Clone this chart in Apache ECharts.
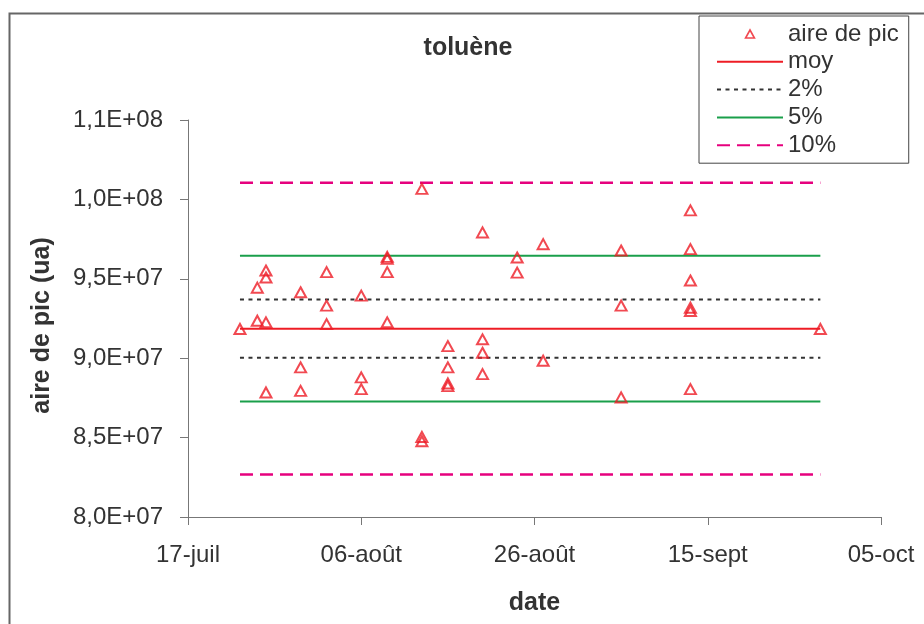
<!DOCTYPE html>
<html>
<head>
<meta charset="utf-8">
<script src="https://cdn.jsdelivr.net/npm/echarts@6/dist/echarts.min.js"></script>
<style>html,body{margin:0;padding:0;background:#fff}#c{width:924px;height:624px}</style>
</head>
<body>
<div id="c"></div>
<script>
// ---- data ----
const baseDate = '07-17';            // first x tick (17-juil)
const xTickLabels = ['17-juil', '06-août', '26-août', '15-sept', '05-oct'];
const xStepDays = 20;
const yTickLabels = ['8,0E+07', '8,5E+07', '9,0E+07', '9,5E+07', '1,0E+08', '1,1E+08'];
const yMin = 8.0e7;
const yStep = 5.0e6;

const sampleDates = [
  '07-23',
  '07-25', '07-25',
  '07-26', '07-26', '07-26', '07-26',
  '07-30', '07-30', '07-30',
  '08-02', '08-02', '08-02',
  '08-06', '08-06', '08-06',
  '08-09', '08-09', '08-09', '08-09',
  '08-13', '08-13', '08-13',
  '08-16', '08-16', '08-16', '08-16',
  '08-20', '08-20', '08-20', '08-20',
  '08-24', '08-24',
  '08-27', '08-27',
  '09-05', '09-05', '09-05',
  '09-13', '09-13', '09-13', '09-13', '09-13', '09-13',
  '09-28'
];
const peakArea = [
  9.184e7,
  9.236e7, 9.444e7,
  9.226e7, 9.552e7, 9.508e7, 8.784e7,
  9.415e7, 8.942e7, 8.794e7,
  9.542e7, 9.331e7, 9.215e7,
  9.394e7, 8.879e7, 8.805e7,
  9.638e7, 9.626e7, 9.542e7, 9.226e7,
  1.0066e8, 8.504e7, 8.477e7,
  9.076e7, 8.942e7, 8.841e7, 8.824e7,
  9.792e7, 9.119e7, 9.034e7, 8.900e7,
  9.634e7, 9.539e7,
  9.718e7, 8.984e7,
  9.678e7, 9.331e7, 8.753e7,
  9.931e7, 9.687e7, 9.489e7, 9.318e7, 9.297e7, 8.805e7,
  9.184e7
];
const meanValue = 9.186e7;           // "moy"
const bandPercents = [2, 5, 10];
const bandNames = ['2%', '5%', '10%'];

// ---- helpers ----
function dayOffset(md) {
  const [m, d] = md.split('-').map(Number);
  const [bm, bd] = baseDate.split('-').map(Number);
  return Math.round((Date.UTC(2008, m - 1, d) - Date.UTC(2008, bm - 1, bd)) / 86400000);
}
const xs = sampleDates.map(dayOffset);
const xFirst = Math.min.apply(null, xs);
const xLast = Math.max.apply(null, xs);
const scatterData = xs.map((x, i) => [x, peakArea[i]]);
const hLine = v => [[xFirst, v], [xLast, v]];

const FONT = "'Liberation Sans', Arial, sans-serif";
const TXT = '#333';
const RED = '#ee1c25';
const GREEN = '#1a9f4b';
const PINK = '#e6007e';
const DARK = '#333';

const bandStyles = {
  '2%': { color: DARK, width: 2, type: [4, 4.5] },
  '5%': { color: GREEN, width: 2, type: 'solid' },
  '10%': { color: PINK, width: 2.5, type: [13, 7] }
};

const series = [
  {
    name: 'aire de pic', type: 'scatter', symbol: 'triangle', symbolSize: [11, 10],
    itemStyle: { color: 'rgba(255,255,255,0)', borderColor: RED, borderWidth: 2 },
    data: scatterData, z: 5
  },
  {
    name: 'moy', type: 'line', symbol: 'none',
    lineStyle: { color: RED, width: 2, type: 'solid' }, itemStyle: { color: RED },
    data: hLine(meanValue)
  }
];
bandPercents.forEach((p, i) => {
  const st = bandStyles[bandNames[i]];
  [1, -1].forEach(sign => {
    series.push({
      name: bandNames[i], type: 'line', symbol: 'none',
      lineStyle: { color: st.color, width: st.width, type: st.type },
      itemStyle: { color: st.color },
      data: hLine(meanValue * (1 + sign * p / 100))
    });
  });
});

const hideDot = { color: 'rgba(0,0,0,0)', borderWidth: 0 };
const legendNames = ['aire de pic', 'moy', '2%', '5%', '10%'];

const chart = echarts.init(document.getElementById('c'), null, { renderer: 'canvas' });
chart.setOption({
  animation: false,
  backgroundColor: '#fff',
  textStyle: { fontFamily: FONT, color: TXT },
  title: {
    text: 'toluène', left: 468, top: 36, textAlign: 'center', padding: 0,
    textStyle: { fontFamily: FONT, fontSize: 25, fontWeight: 'bold', color: TXT }
  },
  graphic: [{
    type: 'rect', left: 7, top: 11, z: -1, silent: true,
    shape: { width: 1000, height: 1000 },
    style: { fill: 'none', stroke: '#666', lineWidth: 2 }
  }],
  legend: {
    data: legendNames.map((n, i) => i === 0
      ? { name: n, icon: 'path://M5,0 L10,9 L0,9 Z',
          itemStyle: { color: 'rgba(255,255,255,0)', borderColor: RED, borderWidth: 1.6 } }
      : { name: n, itemStyle: hideDot }),
    orient: 'vertical', left: 699, top: 16,
    padding: [6, 10, 6, 17],
    itemWidth: 66, itemHeight: 8, itemGap: 3.8,
    symbolKeepAspect: true,
    borderColor: '#444', borderWidth: 1, backgroundColor: '#fff',
    textStyle: { fontFamily: FONT, fontSize: 24, lineHeight: 24, color: TXT },
    selectedMode: false
  },
  grid: { left: 188, right: 43, top: 120, bottom: 107 },
  xAxis: {
    type: 'value', min: 0, max: xStepDays * (xTickLabels.length - 1), interval: xStepDays,
    name: 'date', nameLocation: 'middle', nameGap: 74,
    nameTextStyle: { fontFamily: FONT, fontSize: 25, fontWeight: 'bold', color: TXT },
    axisLine: { show: true, onZero: false, lineStyle: { color: '#777', width: 1 } },
    axisTick: { show: true, length: 8, lineStyle: { color: '#777' } },
    axisLabel: {
      margin: 26, fontFamily: FONT, fontSize: 24, color: TXT, showMinLabel: true, showMaxLabel: true,
      formatter: v => xTickLabels[Math.round(v / xStepDays)]
    },
    splitLine: { show: false }
  },
  yAxis: {
    type: 'value', min: yMin, max: yMin + yStep * (yTickLabels.length - 1), interval: yStep,
    name: 'aire de pic (ua)', nameLocation: 'middle', nameGap: 133,
    nameTextStyle: { fontFamily: FONT, fontSize: 25, fontWeight: 'bold', color: TXT, padding: [0, 14, 0, 0] },
    axisLine: { show: true, lineStyle: { color: '#777', width: 1 } },
    axisTick: { show: true, length: 8, lineStyle: { color: '#777' } },
    axisLabel: {
      margin: 25, fontFamily: FONT, fontSize: 24, color: TXT,
      formatter: v => yTickLabels[Math.round((v - yMin) / yStep)]
    },
    splitLine: { show: false }
  },
  series: series
});
</script>
</body>
</html>
